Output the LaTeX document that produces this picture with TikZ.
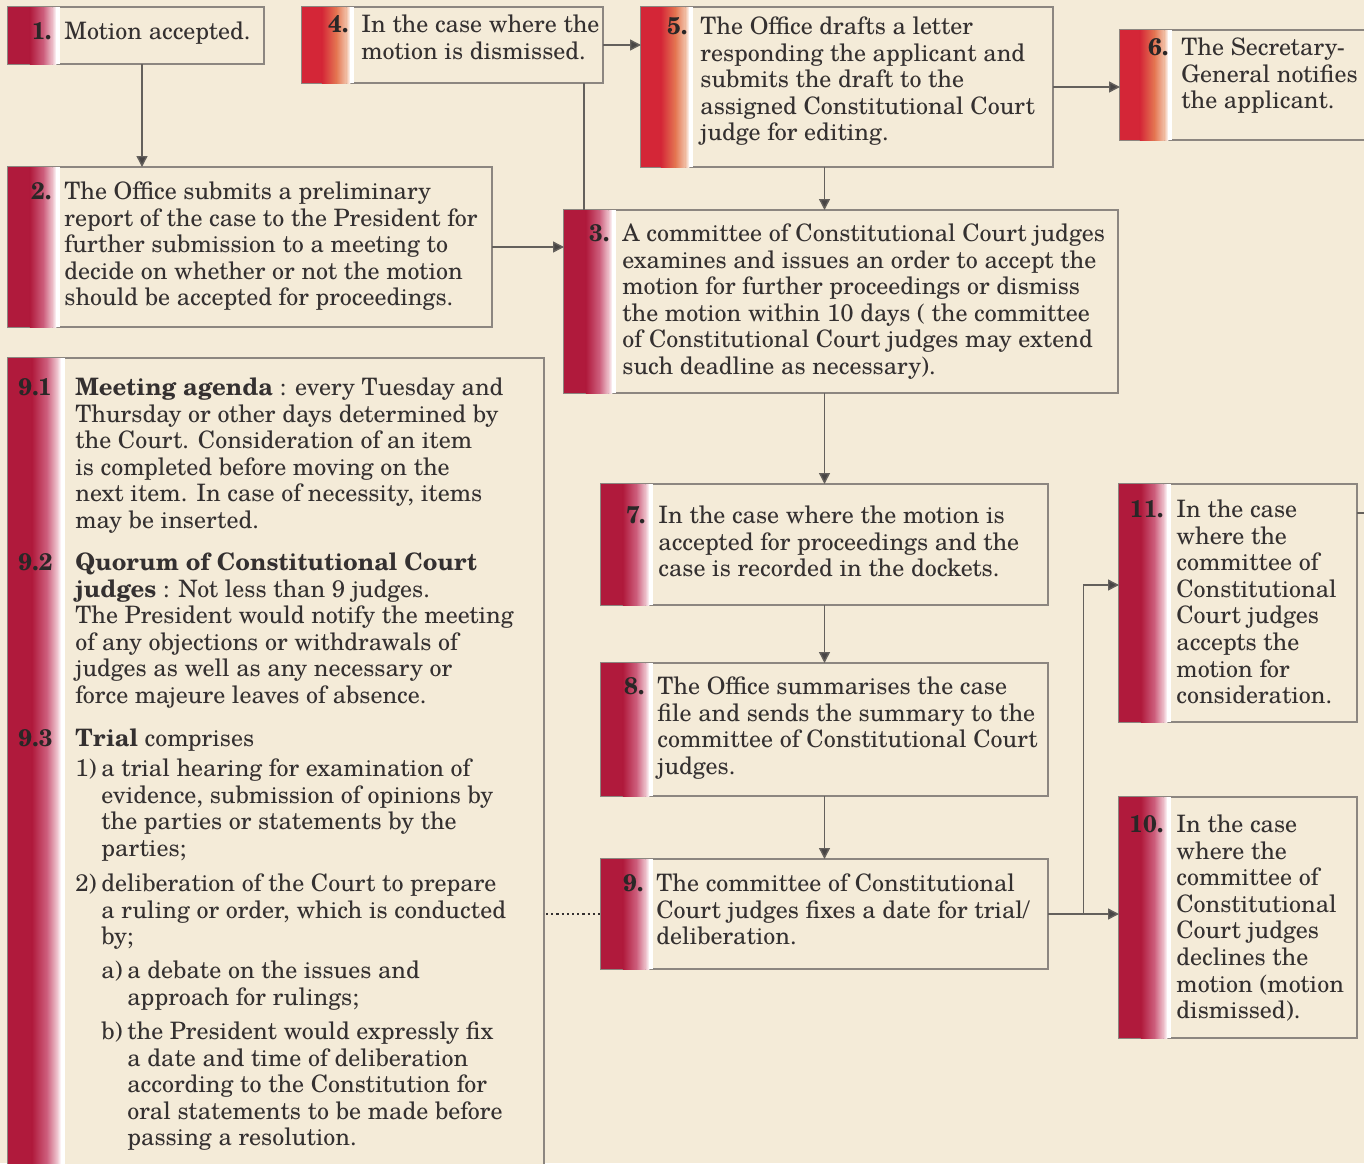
\documentclass[tikz,border=0pt]{standalone}
\usepackage{fontspec}
\IfFontExistsTF{TeX Gyre Schola}{\setmainfont{TeX Gyre Schola}}{\setmainfont{Liberation Serif}}
\usetikzlibrary{arrows.meta,calc}
\definecolor{cream}{RGB}{244,235,216}
\definecolor{boxline}{RGB}{140,134,128}
\definecolor{connc}{RGB}{100,96,92}
\definecolor{ink}{RGB}{52,48,48}
\definecolor{crim}{RGB}{176,26,60}
\definecolor{crimmid}{RGB}{205,95,125}
\definecolor{crimlt}{RGB}{238,196,206}
\definecolor{wred}{RGB}{212,38,55}
\definecolor{worange}{RGB}{228,118,82}
\definecolor{wpeach}{RGB}{242,196,172}

\tikzset{
  stepbox/.style={draw=boxline, line width=0.7pt, fill=cream, anchor=north west, inner sep=0pt, outer sep=0pt},
  bodytxt/.style={anchor=north west, inner sep=0pt, align=left, text=ink, font=\fontsize{12}{13.3}\selectfont},
  numtxt/.style={anchor=north east, inner sep=0pt, text=ink!80!black, font=\fontsize{12}{13.3}\selectfont\bfseries},
  lbltxt/.style={anchor=north west, inner sep=0pt, text=ink, font=\fontsize{12}{13.3}\selectfont},
  conn/.style={draw=connc, line width=0.7pt},
  arr/.style={conn, -{Triangle[length=5.5pt,width=5.5pt,fill=ink!90]}},
  dotline/.style={draw=ink, line width=1.1pt, dash pattern=on 1.1pt off 1.5pt},
}

% cold (crimson) bar: x y barwidth height
\newcommand\coldbar[4]{%
  \fill[crim] (#1,#2) rectangle (#1+0.42*#3,#2+#4);
  \shade[left color=crim,right color=crimmid] (#1+0.42*#3,#2) rectangle (#1+0.68*#3,#2+#4);
  \shade[left color=crimmid,right color=crimlt] (#1+0.68*#3,#2) rectangle (#1+0.86*#3,#2+#4);
  \shade[left color=crimlt,right color=white] (#1+0.86*#3,#2) rectangle (#1+0.93*#3,#2+#4);
  \fill[white] (#1+0.93*#3,#2) rectangle (#1+#3,#2+#4);}
% warm (red-orange) bar
\newcommand\warmbar[4]{%
  \fill[wred] (#1,#2) rectangle (#1+0.38*#3,#2+#4);
  \shade[left color=wred,right color=worange] (#1+0.38*#3,#2) rectangle (#1+0.66*#3,#2+#4);
  \shade[left color=worange,right color=wpeach] (#1+0.66*#3,#2) rectangle (#1+0.86*#3,#2+#4);
  \shade[left color=wpeach,right color=white] (#1+0.86*#3,#2) rectangle (#1+0.93*#3,#2+#4);
  \fill[white] (#1+0.93*#3,#2) rectangle (#1+#3,#2+#4);}
% box: name x y w h
\newcommand\coldbox[5]{\node[stepbox, minimum width=#4*0.5pt, minimum height=#5*0.5pt] (#1) at (#2,#3) {};
  \coldbar{#2}{#3}{52}{#5}}
\newcommand\warmbox[5]{\node[stepbox, minimum width=#4*0.5pt, minimum height=#5*0.5pt] (#1) at (#2,#3) {};
  \warmbar{#2}{#3}{52}{#5}}
% text: name number bodyx baseline text
\newcommand\boxtext[5]{%
  \node[numtxt] (n#1) at (#3-12,#4-18.6) {\strut #2};
  \node[bodytxt] (t#1) at (#3,#4-18.6) {\strut #5};}
\newcommand\lbl[4]{\node[lbltxt] (#1) at (#2,#3-18.6) {\strut #4};}
\newcommand\body[4]{\node[bodytxt] (#1) at (#2,#3-18.6) {\strut #4};}

\begin{document}
\begin{tikzpicture}[x=0.5pt,y=-0.5pt]
\useasboundingbox (0,0) rectangle (1364,1163);
\fill[cream] (0,0) rectangle (1364,1163);
\clip (0,0) rectangle (1364,1163);

% boxes
\coldbox{b1}{8}{7}{256}{57}
\warmbox{b4}{302}{7}{301}{76}
\warmbox{b5}{641}{7}{412}{160}
\warmbox{b6}{1120}{30}{270}{110}
\coldbox{b2}{8}{167}{484}{160}
\coldbox{b3}{564}{210}{554}{183}
\node[stepbox, minimum width=536*0.5pt, minimum height=820*0.5pt] (b9x) at (8,358) {};
\coldbar{8}{358}{57}{820}
\coldbox{b7}{601}{484}{447}{121}
\coldbox{b8}{601}{663}{447}{133}
\coldbox{b9}{601}{859}{447}{110}
\coldbox{b11}{1119}{484}{238}{238}
\coldbox{b10}{1119}{797}{238}{241}

% texts
\boxtext{1}{1.}{64}{39}{Motion accepted.}
\boxtext{4}{4.}{361}{32}{In the case where the\\ motion is dismissed.}
\boxtext{5}{5.}{700}{34}{The Office drafts a letter\\ responding the applicant and\\ submits the draft to the\\ assigned Constitutional Court\\ judge for editing.}
\boxtext{6}{6.}{1181}{55}{The Secretary-\\ General notifies\\ the applicant.}
\boxtext{2}{2.}{64}{199}{The Office submits a preliminary\\ report of the case to the President for\\ further submission to a meeting to\\ decide on whether or not the motion\\ should be accepted for proceedings.}
\boxtext{3}{3.}{622}{241}{A committee of Constitutional Court judges\\ examines and issues an order to accept the\\ motion for further proceedings or dismiss\\ the motion within 10 days ( the committee\\ of Constitutional Court judges may extend\\ such deadline as necessary).}
\boxtext{7}{7.}{658}{523}{In the case where the motion is\\ accepted for proceedings and the\\ case is recorded in the dockets.}
\boxtext{8}{8.}{657}{694}{The Office summarises the case\\ file  and sends the summary to the\\ committee of Constitutional Court\\ judges.}
\boxtext{9}{9.}{656}{891}{The committee of Constitutional\\ Court judges fixes a date for trial/\\ deliberation.}
\boxtext{11}{11.}{1176}{517}{In the case\\ where the\\ committee of\\ Constitutional\\ Court judges\\ accepts the\\ motion for\\ consideration.}
\boxtext{10}{10.}{1176}{832}{In the case\\ where the\\ committee of\\ Constitutional\\ Court judges\\ declines the\\ motion (motion\\ dismissed).}

% 9.x texts
\node[lbltxt, text=ink!80!black, font=\fontsize{12}{13.3}\selectfont\bfseries] (l91) at (18,395-18.6) {\strut 9.1};
\body{p91}{75}{395}{\textbf{Meeting agenda} : every Tuesday and\\ Thursday or other days determined by\\ the Court. Consideration of an item\\ is completed before moving on the\\ next item. In case of necessity, items\\ may be inserted.}
\node[lbltxt, text=ink!80!black, font=\fontsize{12}{13.3}\selectfont\bfseries] (l92) at (18,570-18.6) {\strut 9.2};
\body{p92}{75}{570}{\textbf{Quorum of Constitutional Court}\\ \textbf{judges} : Not less than 9 judges.\\ The President would notify the meeting\\ of any objections or withdrawals of\\ judges as well as any necessary or\\ force majeure leaves of absence.}
\node[lbltxt, text=ink!80!black, font=\fontsize{12}{13.3}\selectfont\bfseries] (l93) at (18,746-18.6) {\strut 9.3};
\body{p93}{75}{746}{\textbf{Trial} comprises}
\lbl{l1}{75}{776}{1)}
\body{p1}{101}{776}{a trial hearing for examination of\\ evidence, submission of opinions by\\ the parties or statements by the\\ parties;}
\lbl{l2}{75}{891}{2)}
\body{p2}{101}{891}{deliberation of the Court to prepare\\ a ruling or order, which is conducted\\ by;}
\lbl{la}{101}{978}{a)}
\body{pa}{127}{978}{a debate on the issues and\\ approach for rulings;}
\lbl{lb}{101}{1039}{b)}
\body{pb}{127}{1039}{the President would expressly fix\\ a date and time of deliberation\\ according to the Constitution for\\ oral statements to be made before\\ passing a resolution.}

% connectors
\draw[arr] ([xshift=3pt]b1.south) -- ([xshift=3pt]b1.south |- b2.north);
\draw[arr] (b4.east) -- (b4.east -| b5.west);
\draw[conn] ([xshift=-9.5pt]b4.south east) -- ([xshift=-9.5pt]b4.south east |- b3.north);
\draw[arr] (b2.east) -- (b2.east -| b3.west);
\draw[arr] (b5.south -| b7.north) -- (b3.north -| b7.north);
\draw[arr] (b5.east) -- (b5.east -| b6.west);
\draw[arr] (b3.south -| b7.north) -- (b7.north);
\draw[arr] (b7.south) -- (b8.north);
\draw[arr] (b8.south) -- (b9.north);
\draw[arr] (b9.east) -- (b9.east -| b10.west);
\coordinate (junc) at ($(b9.east)!0.5!(b9.east -| b10.west)$);
\draw[arr] (junc) |- ([yshift=9pt]b11.west);
\draw[dotline] ([xshift=1pt]b9x.east |- b9.west) -- (b9.west);
\coordinate (offr) at (1370,513);
\draw[conn] (b11.east |- offr) -- (offr);
\end{tikzpicture}
\end{document}
